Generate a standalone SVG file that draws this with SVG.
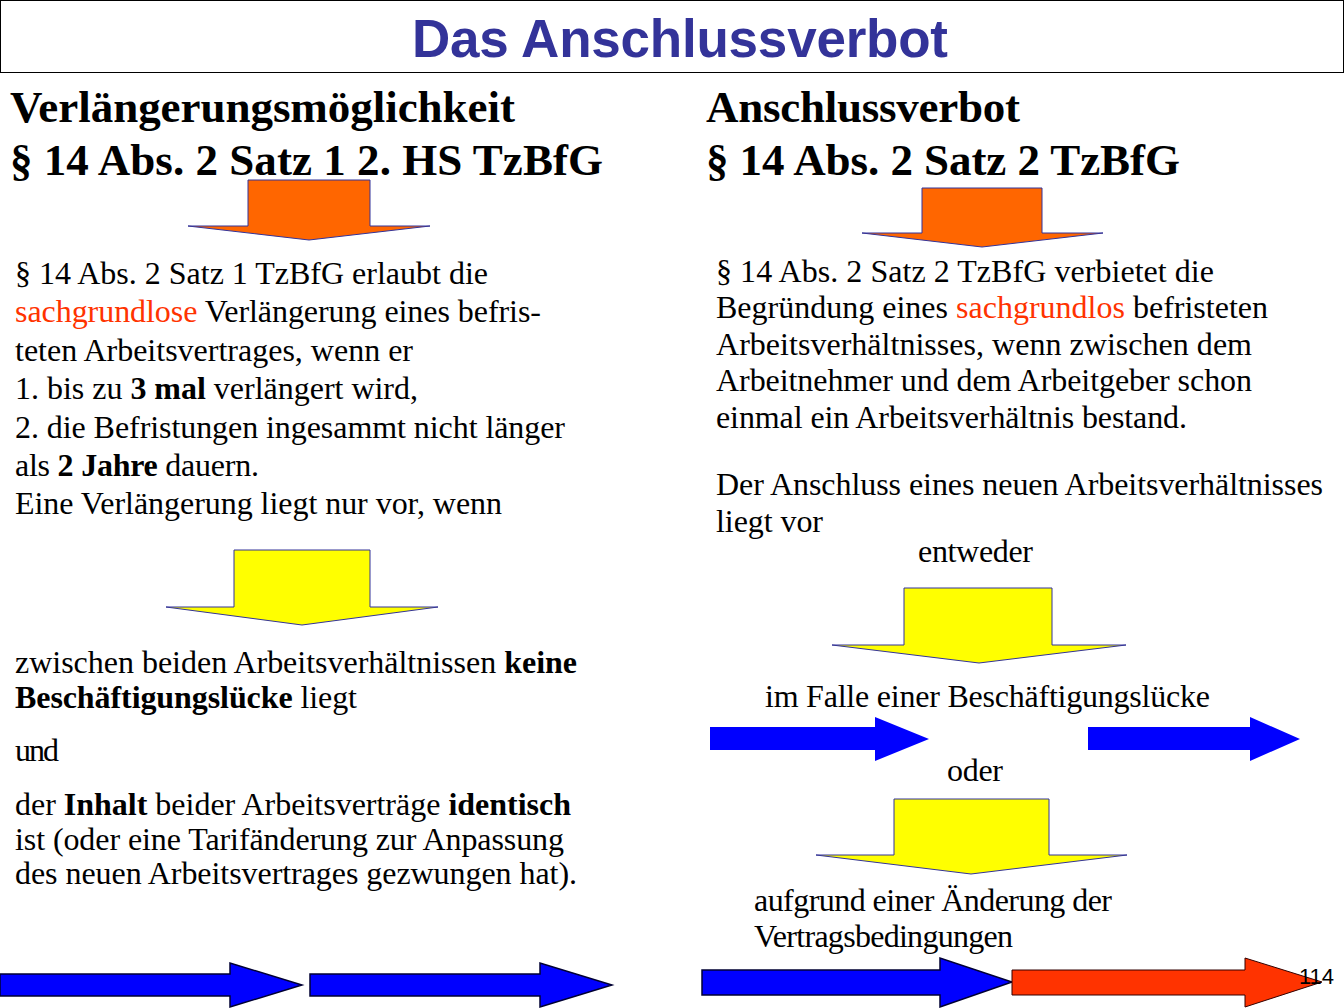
<svg xmlns="http://www.w3.org/2000/svg" width="1344" height="1008" viewBox="0 0 1344 1008">
<style>
.t{font-family:"Liberation Serif","Times New Roman",serif;font-size:32px;fill:#000}
.h{font-family:"Liberation Serif","Times New Roman",serif;font-size:45px;font-weight:bold;fill:#000}
.r{fill:#FF3300}
.b{font-weight:bold}
.or{fill:#FF6600;stroke:#333399;stroke-width:1}
.ye{fill:#FFFF00;stroke:#333399;stroke-width:1}
.bl{fill:#0000FF;stroke:#000033;stroke-width:1.5}
.bl2{fill:#0000FF;stroke:none}
.rd{fill:#FF3300;stroke:#330000;stroke-width:1}
</style>
<rect x="0" y="0" width="1344" height="1008" fill="#fff"/>
<g id="title">
<rect x="0.5" y="0.5" width="1343" height="72" fill="#fff" stroke="#000" stroke-width="1"/>
<text x="412" y="57" textLength="536" font-family="Liberation Sans,Arial,sans-serif" font-size="53" font-weight="bold" fill="#333399">Das Anschlussverbot</text>
</g>
<g id="left-heading">
<text class="h" x="10" y="122" textLength="505">Verlängerungsmöglichkeit</text>
<text class="h" x="10" y="175" textLength="593">§ 14 Abs. 2 Satz 1 2. HS TzBfG</text>
</g>
<g id="right-heading">
<text class="h" x="706" y="122" textLength="314">Anschlussverbot</text>
<text class="h" x="706" y="175" textLength="474">§ 14 Abs. 2 Satz 2 TzBfG</text>
</g>
<g id="left-text">
<text class="t" x="15" y="284" textLength="473">§ 14 Abs. 2 Satz 1 TzBfG erlaubt die</text>
<text class="t" x="15" y="322" textLength="526"><tspan class="r">sachgrundlose</tspan> Verlängerung eines befris-</text>
<text class="t" x="15" y="361" textLength="398">teten Arbeitsvertrages, wenn er</text>
<text class="t" x="15" y="399" textLength="403">1. bis zu <tspan class="b">3 mal</tspan> verlängert wird,</text>
<text class="t" x="15" y="438" textLength="550">2. die Befristungen ingesammt nicht länger</text>
<text class="t" x="15" y="476" textLength="244">als <tspan class="b">2 Jahre</tspan> dauern.</text>
<text class="t" x="15" y="514" textLength="487">Eine Verlängerung liegt nur vor, wenn</text>
</g>
<g id="left-text2">
<text class="t" x="15" y="673" textLength="562">zwischen beiden Arbeitsverhältnissen <tspan class="b">keine</tspan></text>
<text class="t" x="15" y="708" textLength="342"><tspan class="b">Beschäftigungslücke</tspan> liegt</text>
<text class="t" x="15" y="761" textLength="44">und</text>
<text class="t" x="15" y="815" textLength="556">der <tspan class="b">Inhalt</tspan> beider Arbeitsverträge <tspan class="b">identisch</tspan></text>
<text class="t" x="15" y="850" textLength="549">ist (oder eine Tarifänderung zur Anpassung</text>
<text class="t" x="15" y="884" textLength="562">des neuen Arbeitsvertrages gezwungen hat).</text>
</g>
<g id="right-text">
<text class="t" x="716" y="282" textLength="498">§ 14 Abs. 2 Satz 2 TzBfG verbietet die</text>
<text class="t" x="716" y="318" textLength="552">Begründung eines <tspan class="r">sachgrundlos</tspan> befristeten</text>
<text class="t" x="716" y="355" textLength="536">Arbeitsverhältnisses, wenn zwischen dem</text>
<text class="t" x="716" y="391" textLength="536">Arbeitnehmer und dem Arbeitgeber schon</text>
<text class="t" x="716" y="428" textLength="471">einmal ein Arbeitsverhältnis bestand.</text>
<text class="t" x="716" y="495" textLength="607">Der Anschluss eines neuen Arbeitsverhältnisses</text>
<text class="t" x="716" y="532" textLength="107">liegt vor</text>
<text class="t" x="918" y="562" textLength="115">entweder</text>
<text class="t" x="765" y="707" textLength="445">im Falle einer Beschäftigungslücke</text>
<text class="t" x="947" y="781" textLength="56">oder</text>
<text class="t" x="754" y="911" textLength="358">aufgrund einer Änderung der</text>
<text class="t" x="754" y="947" textLength="259">Vertragsbedingungen</text>
</g>
<g id="connectors">
<polygon class="or" points="248,180 370,180 370,226 430,226 309,240 188,226 248,226"/>
<polygon class="or" points="922,188 1042,188 1042,233 1103,233 982,247 862,233 922,233"/>
<polygon class="ye" points="234,550 370,550 370,607 438,607 302,625 166,607 234,607"/>
<polygon class="ye" points="904,588 1052,588 1052,645 1126,645 979,663 832,645 904,645"/>
<polygon class="ye" points="894,799 1049,799 1049,855 1127,855 971,874 816,855 894,855"/>
<polygon class="bl2" points="710,727 875,727 875,717 929,739 875,761 875,750 710,750"/>
<polygon class="bl2" points="1088,727 1250,727 1250,717 1300,739 1250,761 1250,750 1088,750"/>
<polygon class="bl" points="0,974 230,974 230,963 302,985 230,1007 230,996 0,996"/>
<polygon class="bl" points="310,974 540,974 540,963 612,985 540,1007 540,996 310,996"/>
<polygon class="bl" points="702,970 940,970 940,958 1012,982 940,1007 940,995 702,995"/>
<polygon class="rd" points="1012,970 1245,970 1245,958 1322,982 1245,1007 1245,995 1012,995"/>
</g>
<text x="1299" y="984" font-family="Liberation Sans,Arial,sans-serif" font-size="22" fill="#000">114</text>
</svg>
